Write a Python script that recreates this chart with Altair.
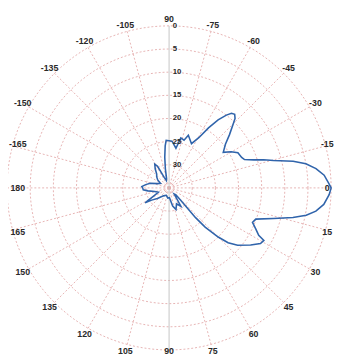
import altair as alt
import pandas as pd
import numpy as np

# Radiation pattern: angle (deg, clockwise from right) and relative level (dB)
ANGLES = [-180, -177, -172, -166, -160, -152, -145, -138, -132, -126, -121, -118,
          -115, -110, -105, -101, -98, -95.3, -93.5, -86.4, -80.2, -76.8, -72.6,
          -69.9, -63.1, -59.4, -56.7, -54.2, -51.8, -50.1, -48.3, -46.5, -44.7,
          -41.4, -37.8, -33.3, -30.2, -27.1, -22.8, -20.6, -18.3, -16.6, -14.7,
          -12.1, -10.0, -7.5, -4.7, -1.6, 0.0, 2.4, 6.1, 9.0, 11.3, 13.4, 16.3,
          19.8, 22.5, 25.3, 27.9, 29.0, 31.3, 35.0, 39.9, 42.9, 45.0, 47.4, 48.3,
          47.7, 45.0, 50.0, 57.3, 65.0, 72.3, 78.8, 88.0, 97.0, 110.0, 125.0,
          138.0, 145.0, 148.2, 152.0, 158.0, 165.9, 172.0, 175.7, 180.0]
GAIN_DB = [-29.3, -29.1, -29.9, -30.8, -32.3, -32.9, -32.0, -31.4, -31.0, -29.9,
           -29.0, -29.7, -32.5, -33.3, -32.9, -30.8, -28.3, -25.9, -24.7, -24.9,
           -26.3, -23.9, -24.2, -22.9, -24.3, -22.4, -19.5, -16.9, -15.0, -14.0,
           -13.7, -14.3, -15.6, -17.6, -19.6, -21.0, -19.5, -18.3, -18.0, -17.6,
           -15.7, -13.7, -11.7, -7.6, -5.0, -3.0, -1.4, -0.5, 0.0, -0.4, -1.4,
           -2.9, -4.8, -7.5, -11.5, -15.1, -15.5, -14.3, -13.1, -11.6, -11.9,
           -13.5, -15.7, -17.6, -20.0, -23.5, -26.4, -29.7, -32.9, -33.3, -30.3,
           -31.2, -30.1, -31.0, -32.9, -32.8, -33.3, -32.9, -31.6, -30.4, -28.9,
           -31.2, -32.5, -31.8, -30.4, -29.4, -29.3]

RING_DB = [0, -5, -10, -15, -20, -25, -30]
RING_LABELS = ["0", "5", "10", "15", "20", "25", "30"]
SPOKE_ANGLES = [-165, -150, -135, -120, -105, -90, -75, -60, -45, -30, -15, 0,
                15, 30, 45, 60, 75, 90, 105, 120, 135, 150, 165, 180]
SPOKE_LABELS = ["-165", "-150", "-135", "-120", "-105", "90", "-75", "-60", "-45",
                "-30", "-15", "0", "15", "30", "45", "60", "75", "90", "105",
                "120", "135", "150", "165", "180"]

FLOOR = 35.0          # dB range shown (centre = -35 dB)
PX_PER_UNIT = 166.0 / FLOOR
W, H = 337, 352
CX, CY = 165.0, 180.0  # centre inside the plot area (px)
XD = [-CX / PX_PER_UNIT, (W - CX) / PX_PER_UNIT]
YD = [-(H - CY) / PX_PER_UNIT, CY / PX_PER_UNIT]
LABEL_R = 36.5
EDGE = 10.0 / PX_PER_UNIT   # keep label centres this far inside the edges
YEDGE = 5.0 / PX_PER_UNIT

xs = alt.Scale(domain=XD, nice=False, zero=False)
ys = alt.Scale(domain=YD, nice=False, zero=False)

def X(f):
    return alt.X(f, type="quantitative", scale=xs, axis=None)

def Y(f):
    return alt.Y(f, type="quantitative", scale=ys, axis=None)

GRID_COLOR = "#e3aaaa"

# rings
t = np.arange(0, 361, 3)
ring_df = pd.DataFrame([(db, a) for db in RING_DB for a in t], columns=["db", "t"])
rings = alt.Chart(ring_df).transform_calculate(
    x=f"({FLOOR}+datum.db)*cos(datum.t*PI/180)",
    y=f"-({FLOOR}+datum.db)*sin(datum.t*PI/180)",
).mark_line(color=GRID_COLOR, strokeWidth=0.9, strokeDash=[2, 2]).encode(
    x=X("x"), y=Y("y"), detail="db:N", order="t:Q"
)

spoke_df = pd.DataFrame({"ang": SPOKE_ANGLES, "label": SPOKE_LABELS})
spoke_base = alt.Chart(spoke_df).transform_calculate(
    x0="0", y0="0",
    x=f"{FLOOR}*cos(datum.ang*PI/180)",
    y=f"-{FLOOR}*sin(datum.ang*PI/180)",
    lx=f"clamp({LABEL_R}*cos(datum.ang*PI/180), {XD[0] + EDGE}, {XD[1] - EDGE})",
    ly=f"clamp(-{LABEL_R}*sin(datum.ang*PI/180), {YD[0] + YEDGE}, {YD[1] - YEDGE})",
)
spokes = spoke_base.transform_filter("abs(datum.ang) != 90").mark_rule(
    color=GRID_COLOR, strokeWidth=0.9, strokeDash=[2, 2]
).encode(x=X("x0"), y=Y("y0"), x2="x:Q", y2="y:Q")
vspoke = spoke_base.transform_filter("abs(datum.ang) == 90").mark_rule(
    color="#c4c4c4", strokeWidth=1
).encode(x=X("x0"), y=Y("y0"), x2="x:Q", y2="y:Q")

angle_labels = spoke_base.mark_text(
    fontSize=9, fontWeight="bold", font="Liberation Sans", color="#2a2a2a",
    align="center", baseline="middle"
).encode(x=X("lx"), y=Y("ly"), text="label:N")

rl_df = pd.DataFrame({"db": RING_DB, "label": RING_LABELS})
ring_labels = alt.Chart(rl_df).transform_calculate(
    x="0.8", y=f"{FLOOR}+datum.db"
).mark_text(
    fontSize=8, fontWeight="bold", font="Liberation Sans", color="#2a2a2a",
    align="left", baseline="middle"
).encode(x=X("x"), y=Y("y"), text="label:N")

pat_df = pd.DataFrame({"i": range(len(ANGLES)), "ang": ANGLES, "db": GAIN_DB})
pattern = alt.Chart(pat_df).transform_calculate(
    x=f"max(0,{FLOOR}+datum.db)*cos(datum.ang*PI/180)",
    y=f"-max(0,{FLOOR}+datum.db)*sin(datum.ang*PI/180)",
).mark_line(color="#3064ab", strokeWidth=1.6).encode(
    x=X("x"), y=Y("y"), order="i:Q"
)

chart = alt.layer(rings, spokes, vspoke, pattern, angle_labels, ring_labels).properties(
    width=W, height=H, padding=0,
    autosize=alt.AutoSizeParams(type="none"),
    background="white",
).configure_view(stroke=None)

chart.save("out.html", embed_options={"renderer": "svg", "actions": False})
